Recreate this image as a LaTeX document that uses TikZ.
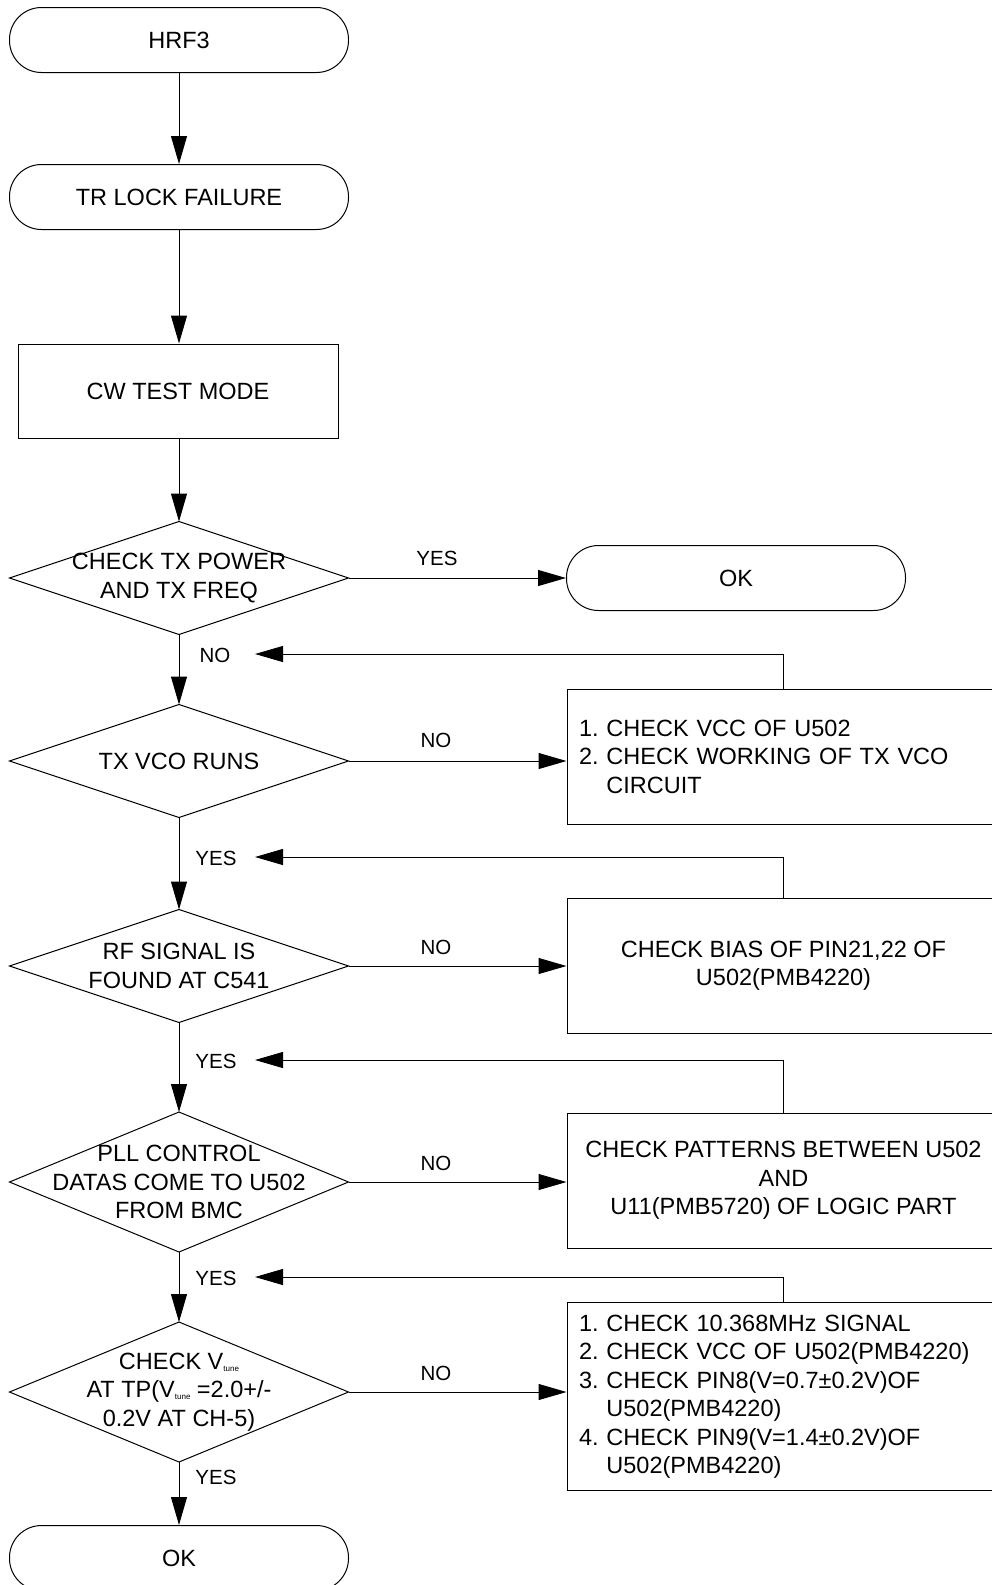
\documentclass[tikz,border=0pt]{standalone}
\usepackage{fontspec}
\setmainfont{Liberation Sans}
\usetikzlibrary{arrows.meta,positioning,shapes.geometric}
\newcommand{\fmain}{\fontsize{23.5}{28.5}\selectfont\frenchspacing}
\newcommand{\flbl}{\fontsize{20.5}{24}\selectfont}
\newcommand{\tn}{\raisebox{-2pt}{\fontsize{8}{8}\selectfont tune}}

\begin{document}
\begin{tikzpicture}[x=1pt,y=-1pt,
  term/.style={draw,line width=1pt,rounded corners=32pt,minimum width=339pt,minimum height=65pt,font=\fmain},
  proc/.style={draw,line width=1pt,minimum width=320pt,minimum height=94pt,font=\fmain},
  dec/.style={draw,line width=1pt,diamond,inner sep=0pt,outer sep=0pt,minimum width=339pt,minimum height=113pt},
  dectext/.style={align=center,font=\fmain,inner sep=0pt},
  note/.style={draw,line width=1pt,minimum width=433pt,minimum height=135pt,font=\fmain,inner sep=12pt},
  lbl/.style={font=\flbl,inner sep=0pt},
  arrow/.style={-{Triangle[length=28pt,width=16pt]},line width=1pt}
]
\useasboundingbox (0,0) rectangle (992,1585);
\clip (0,0) rectangle (992,1585);

% main column
\node[term] (start) at (179,40) {HRF3};
\node[term] (fail) at (179,197) {TR LOCK FAILURE};
\node[proc] (cw) at (178,391) {CW TEST MODE};
\node[dec,label={[dectext]center:CHECK TX POWER\\AND TX FREQ}] (d1) at (179,578) {};
\node[dec,label={[dectext]center:TX VCO RUNS}] (d2) at (179,761) {};
\node[dec,label={[dectext]center:RF SIGNAL IS\\FOUND AT C541}] (d3) at (179,966) {};
\node[dec,minimum height=140pt,label={[dectext]center:PLL CONTROL\\DATAS COME TO U502\\FROM BMC}] (d4) at (179,1182) {};
\node[dec,minimum height=140pt,label={[dectext]center:CHECK V\tn\\AT TP(V\tn\ =2.0+/-\\0.2V AT CH-5)}] (d5) at (179,1392) {};
\node[term] (okb) at (179,1558) {OK};
\node[term] (okr) at (736,578) {OK};

% right column
\node[note,text width=409pt,align=left] (n1) at (783.5,756.5) {1. CHECK VCC OF U502\\2. CHECK WORKING OF TX VCO\\\hphantom{2. }CIRCUIT};
\node[note,align=center] (n2) at (783.5,965.5) {CHECK BIAS OF PIN21,22 OF\\U502(PMB4220)};
\node[note,align=center] (n3) at (783.5,1180.5) {CHECK PATTERNS BETWEEN U502\\AND\\U11(PMB5720) OF LOGIC PART};
\node[note,minimum height=181pt,text width=409pt,align=left] (n4) at (783.5,1396.5) {1. CHECK 10.368MHz SIGNAL\\2. CHECK VCC OF U502(PMB4220)\\3. CHECK PIN8(V=0.7±0.2V)OF\\\hphantom{3. }U502(PMB4220)\\4. CHECK PIN9(V=1.4±0.2V)OF\\\hphantom{4. }U502(PMB4220)};

% return points
\coordinate (r1) at (255,654);
\coordinate (r2) at (255,857);
\coordinate (r3) at (255,1060);
\coordinate (r4) at (255,1277);

% labels
\node[lbl] (yes0) at (437,558) {YES};
\node[lbl] (no1) at (215,655) {NO};
\node[lbl] (no2) at (436,740) {NO};
\node[lbl] (yes2) at (216,858) {YES};
\node[lbl] (no3) at (436,947) {NO};
\node[lbl] (yes3) at (216,1061) {YES};
\node[lbl] (no4) at (436,1163) {NO};
\node[lbl] (yes4) at (216,1278) {YES};
\node[lbl] (no5) at (436,1373) {NO};
\node[lbl] (yes5) at (216,1477) {YES};

% connectors
\draw[arrow] (start) -- (fail);
\draw[arrow] (fail) -- (cw.north -| fail.south);
\draw[arrow] (cw.south -| d1.north) -- (d1);
\draw[arrow] (d1) -- (d2);
\draw[arrow] (d2) -- (d3);
\draw[arrow] (d3) -- (d4);
\draw[arrow] (d4) -- (d5);
\draw[arrow] (d5) -- (okb);
\draw[arrow] (d1.east) -- (okr.west);
\draw[arrow] (d2.east) -- (d2.east -| n1.west);
\draw[arrow] (d3.east) -- (d3.east -| n2.west);
\draw[arrow] (d4.east) -- (d4.east -| n3.west);
\draw[arrow] (d5.east) -- (d5.east -| n4.west);
\draw[arrow] (n1.north) |- (r1);
\draw[arrow] (n2.north) |- (r2);
\draw[arrow] (n3.north) |- (r3);
\draw[arrow] (n4.north) |- (r4);
\end{tikzpicture}
\end{document}
